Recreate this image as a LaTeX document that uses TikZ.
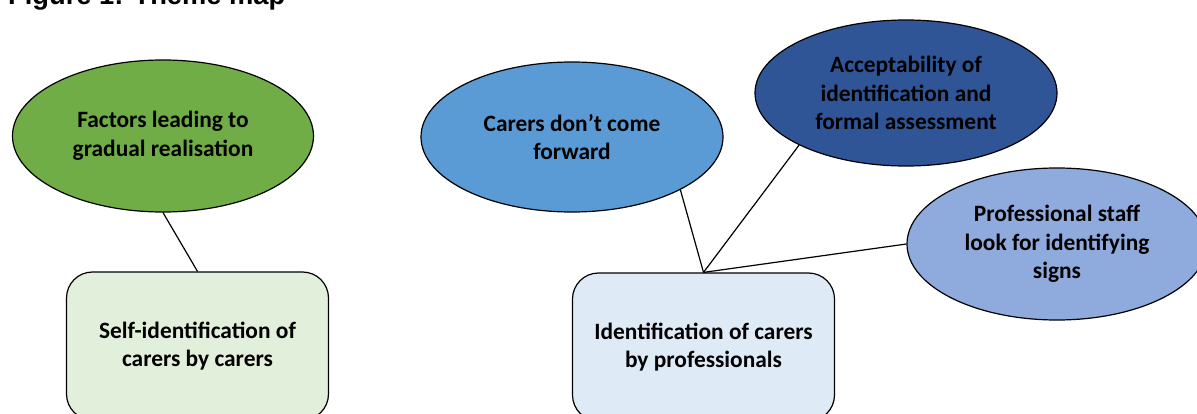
\documentclass[tikz,border=0pt]{standalone}
\usepackage{fontspec}
\setmainfont{Carlito}
\newfontfamily\titlefont{Liberation Sans}
\usetikzlibrary{shapes.geometric}
\definecolor{greenfill}{HTML}{70AD47}
\definecolor{greenbox}{HTML}{E2EFDA}
\definecolor{midblue}{HTML}{5B9BD5}
\definecolor{darkblue}{HTML}{2F5597}
\definecolor{lightblue}{HTML}{8FAADC}
\definecolor{bluebox}{HTML}{DEEBF7}
\tikzset{
  theme/.style={ellipse, draw=black, line width=1.2pt, inner sep=0pt, align=center,
    font=\fontsize{23.4}{28.5}\selectfont\bfseries},
  themebox/.style={rectangle, rounded corners=26pt, draw=black, line width=1.2pt, inner sep=0pt,
    align=center, minimum width=262pt, minimum height=148pt,
    font=\fontsize{23.4}{28.5}\selectfont\bfseries},
  link/.style={draw=black, line width=1.2pt}
}
\begin{document}
\begin{tikzpicture}[x=1pt,y=-1pt]
\useasboundingbox (0,0) rectangle (1197,414);
\node[anchor=base west, inner sep=0pt, font=\titlefont\fontsize{27.3}{32}\selectfont\bfseries] (title) at (8,5) {Figure 1: Theme map};
% left group
\node[theme, fill=greenfill, minimum width=301pt, minimum height=152pt] (gf) at (163,136) {Factors leading to\\gradual realisation};
\node[themebox, fill=greenbox] (gb) at (197.5,346) {Self-identification of\\carers by carers};
% right group
\node[theme, fill=midblue, minimum width=302pt, minimum height=150pt] (cf) at (572,137) {Carers don’t come\\forward};
\node[theme, fill=darkblue, minimum width=302pt, minimum height=146pt] (ac) at (906,93) {Acceptability of\\identification and\\formal assessment};
\node[theme, fill=lightblue, minimum width=300pt, minimum height=152pt] (ps) at (1057,244) {Professional staff\\look for identifying\\signs};
\node[themebox, fill=bluebox] (pb) at (703.5,347) {Identification of carers\\by professionals};
% connectors
\draw[link] (gf.south) -- (gb.north);
\draw[link] (pb.north) -- (cf.-26);
\draw[link] (pb.north) -- (ac.206);
\draw[link] (pb.north) -- (ps.west);
\end{tikzpicture}
\end{document}
